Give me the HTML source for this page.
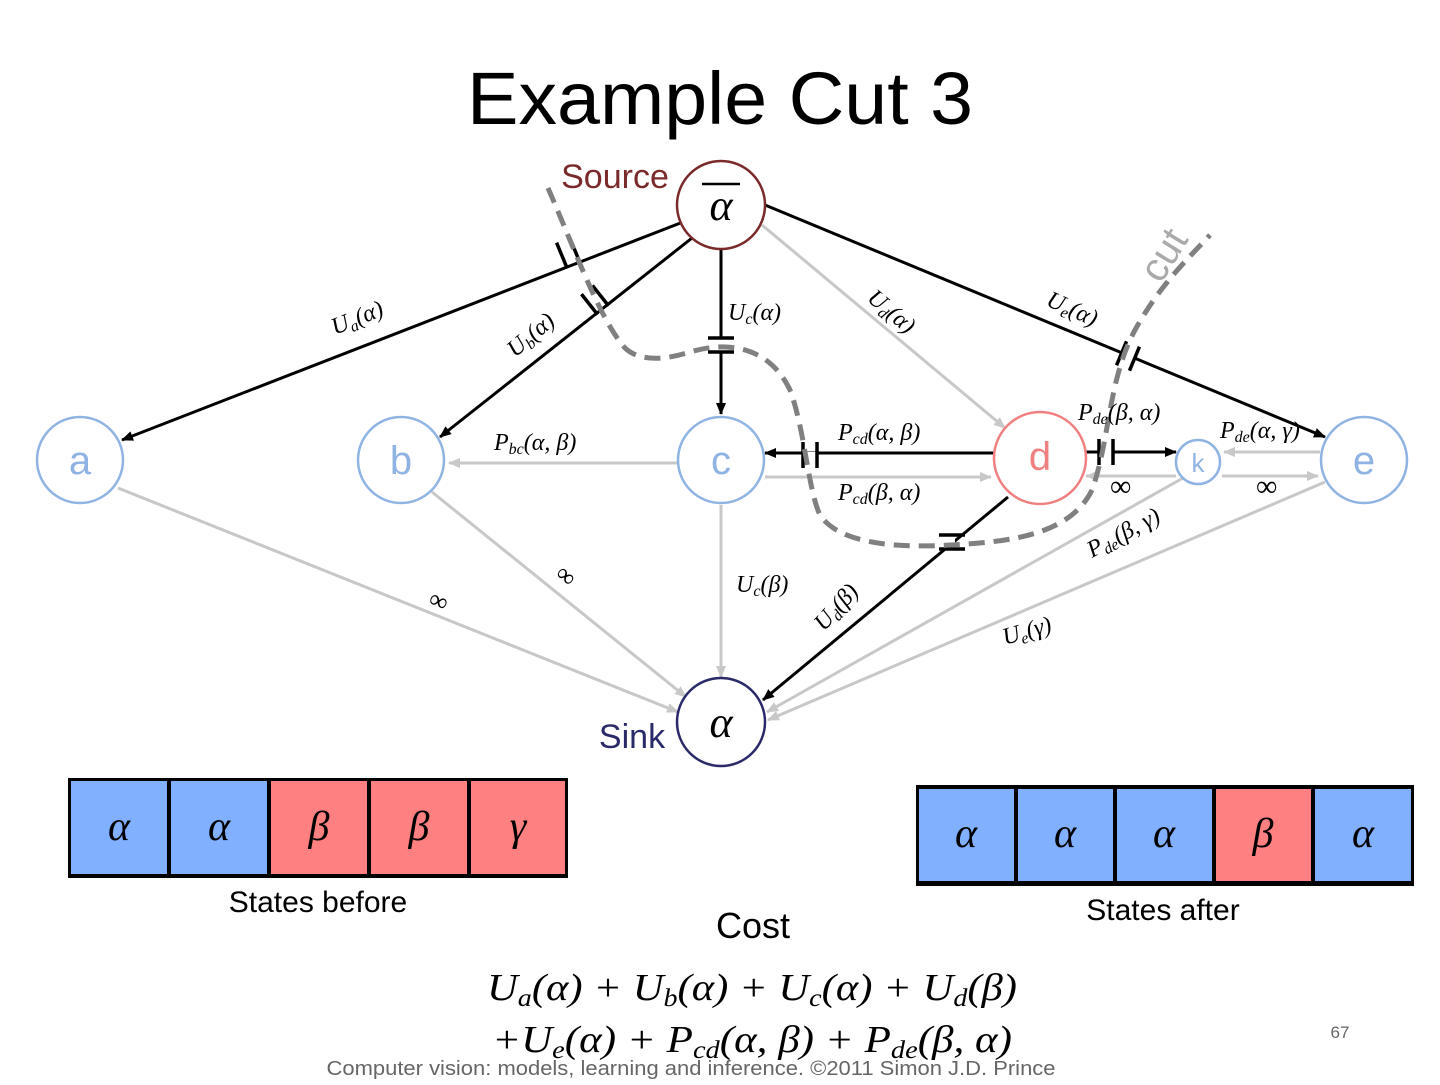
<!DOCTYPE html>
<html><head><meta charset="utf-8"><style>
html,body{margin:0;padding:0;background:#fff;}
body{width:1440px;height:1080px;overflow:hidden;position:relative;font-family:"Liberation Sans",sans-serif;}
</style></head><body>
<svg width="1440" height="1080" viewBox="0 0 1440 1080" xmlns="http://www.w3.org/2000/svg">
<defs>
<marker id="ab" markerWidth="12" markerHeight="10" refX="11" refY="5" orient="auto" markerUnits="userSpaceOnUse"><path d="M0,0 L12,5 L0,10 z" fill="#000"/></marker>
<marker id="ag" markerWidth="12" markerHeight="10" refX="11" refY="5" orient="auto" markerUnits="userSpaceOnUse"><path d="M0,0 L12,5 L0,10 z" fill="#c8c8c8"/></marker>
<g id="tk"><rect x="-7" y="-3" width="14" height="6" fill="#fff"/><line x1="-7" y1="-13" x2="-7" y2="13" stroke="#000" stroke-width="3.5"/><line x1="7" y1="-13" x2="7" y2="13" stroke="#000" stroke-width="3.5"/></g>
</defs>
<text x="720" y="124" text-anchor="middle" font-size="74" font-family="Liberation Sans" textLength="506" lengthAdjust="spacingAndGlyphs">Example Cut 3</text>
<g stroke="#c8c8c8" stroke-width="3" fill="none" marker-end="url(#ag)">
<line x1="762" y1="225" x2="1005" y2="428"/>
<line x1="677" y1="463" x2="449" y2="463"/>
<line x1="765" y1="477" x2="991" y2="477"/>
<line x1="1176" y1="476" x2="1086" y2="476"/>
<line x1="1320" y1="452" x2="1224" y2="452"/>
<line x1="1222" y1="476" x2="1318" y2="476"/>
<line x1="118" y1="488" x2="678" y2="712"/>
<line x1="432" y1="492" x2="686" y2="697"/>
<line x1="721" y1="505" x2="721" y2="677"/>
<line x1="1183" y1="478" x2="767" y2="712"/>
<line x1="1325" y1="482" x2="768" y2="720"/>
</g>
<g stroke="#000" stroke-width="3" fill="none" marker-end="url(#ab)">
<line x1="683" y1="222" x2="122" y2="440"/>
<line x1="692" y1="238" x2="440" y2="437"/>
<line x1="721" y1="249" x2="721" y2="414"/>
<line x1="765" y1="205" x2="1325" y2="437"/>
<line x1="994" y1="453" x2="765" y2="453"/>
<line x1="1086" y1="452" x2="1176" y2="452"/>
<line x1="1008" y1="497" x2="763" y2="700"/>
</g>
<use href="#tk" transform="translate(568,252) rotate(157.6)"/>
<use href="#tk" transform="translate(595,300) rotate(141.7)"/>
<use href="#tk" transform="translate(721,345) rotate(90)"/>
<use href="#tk" transform="translate(1128,356) rotate(22.5)"/>
<use href="#tk" transform="translate(810,455)"/>
<use href="#tk" transform="translate(1106,452)"/>
<use href="#tk" transform="translate(952,542) rotate(90)"/>
<path d="M548,188 C575,250 600,320 625,348 C640,362 665,360 690,352 C730,340 770,348 790,390 C805,430 808,490 820,515 C840,545 900,548 950,545 C1010,542 1070,535 1092,490 C1110,440 1108,380 1135,330 C1160,285 1185,262 1210,235" fill="none" stroke="#808080" stroke-width="5" stroke-dasharray="16,9"/>
<g stroke-width="2.5" fill="#fff">
<circle cx="721" cy="205" r="44" stroke="#7a2a2a"/>
<circle cx="80" cy="460" r="43" stroke="#8fb3e2"/>
<circle cx="401" cy="460" r="43" stroke="#8fb3e2"/>
<circle cx="721" cy="460" r="43" stroke="#8fb3e2"/>
<circle cx="1040" cy="458" r="46" stroke="#f08080"/>
<circle cx="1198" cy="462" r="22" stroke="#8fb3e2"/>
<circle cx="1364" cy="460" r="43" stroke="#8fb3e2"/>
<circle cx="721" cy="722" r="44" stroke="#2a2a6a"/>
</g>
<g font-family="Liberation Sans" text-anchor="middle">
<text x="80" y="474" font-size="40" fill="#8fb3e2">a</text>
<text x="401" y="474" font-size="40" fill="#8fb3e2">b</text>
<text x="721" y="474" font-size="40" fill="#8fb3e2">c</text>
<text x="1040" y="470" font-size="40" fill="#f08080">d</text>
<text x="1198" y="472" font-size="26" fill="#8fb3e2">k</text>
<text x="1364" y="474" font-size="40" fill="#8fb3e2">e</text>
<text x="615" y="188" font-size="34" fill="#7a2a2a">Source</text>
<text x="632" y="748" font-size="34" fill="#2a2a6a">Sink</text>
<text x="1175" y="262" font-size="40" fill="#aaa" transform="rotate(-58 1175 262)">cut</text>
</g>
<g font-family="Liberation Serif" font-style="italic" font-size="44" text-anchor="middle">
<line x1="702" y1="184" x2="740" y2="184" stroke="#000" stroke-width="2.5"/>
<text x="721" y="220">α</text>
<text x="721" y="737">α</text>
</g>
<g font-family="Liberation Serif" font-style="italic" font-size="24">
<text x="335" y="335" transform="rotate(-22 335 335)">U<tspan font-size="16" dy="4">a</tspan><tspan dy="-4">(α)</tspan></text>
<text x="515" y="358" transform="rotate(-40 515 358)">U<tspan font-size="16" dy="4">b</tspan><tspan dy="-4">(α)</tspan></text>
<text x="728" y="320">U<tspan font-size="16" dy="4">c</tspan><tspan dy="-4">(α)</tspan></text>
<text x="866" y="300" transform="rotate(40 866 300)">U<tspan font-size="16" dy="4">d</tspan><tspan dy="-4">(α)</tspan></text>
<text x="1045" y="305" transform="rotate(24 1045 305)">U<tspan font-size="16" dy="4">e</tspan><tspan dy="-4">(α)</tspan></text>
<text x="494" y="450">P<tspan font-size="16" dy="4">bc</tspan><tspan dy="-4">(α, β)</tspan></text>
<text x="838" y="440">P<tspan font-size="16" dy="4">cd</tspan><tspan dy="-4">(α, β)</tspan></text>
<text x="838" y="500">P<tspan font-size="16" dy="4">cd</tspan><tspan dy="-4">(β, α)</tspan></text>
<text x="1078" y="420">P<tspan font-size="16" dy="4">de</tspan><tspan dy="-4">(β, α)</tspan></text>
<text x="1220" y="438">P<tspan font-size="16" dy="4">de</tspan><tspan dy="-4">(α, γ)</tspan></text>
<text x="1092" y="558" transform="rotate(-28 1092 558)">P<tspan font-size="16" dy="4">de</tspan><tspan dy="-4">(β, γ)</tspan></text>
<text x="736" y="592">U<tspan font-size="16" dy="4">c</tspan><tspan dy="-4">(β)</tspan></text>
<text x="824" y="632" transform="rotate(-48 824 632)">U<tspan font-size="16" dy="4">d</tspan><tspan dy="-4">(β)</tspan></text>
<text x="1005" y="645" transform="rotate(-16 1005 645)">U<tspan font-size="16" dy="4">e</tspan><tspan dy="-4">(γ)</tspan></text>
<text x="1110" y="496" font-style="normal" font-size="30">∞</text>
<text x="1256" y="496" font-style="normal" font-size="30">∞</text>
<text x="428" y="610" font-style="normal" font-size="26" transform="rotate(22 440 605)">∞</text>
<text x="554" y="585" font-style="normal" font-size="26" transform="rotate(40 566 580)">∞</text>
</g>
<rect x="68" y="778" width="500" height="100" fill="#000"/>
<g font-family="Liberation Serif" font-style="italic" font-size="42" text-anchor="middle">
<rect x="71" y="781" width="96" height="93" fill="#80b0ff"/>
<rect x="171" y="781" width="96" height="93" fill="#80b0ff"/>
<rect x="271" y="781" width="96" height="93" fill="#ff8080"/>
<rect x="371" y="781" width="96" height="93" fill="#ff8080"/>
<rect x="471" y="781" width="94" height="93" fill="#ff8080"/>
<text x="119" y="840">α</text><text x="219" y="840">α</text><text x="319" y="840">β</text><text x="419" y="840">β</text><text x="518" y="840">γ</text>
<rect x="916" y="785" width="498" height="101" fill="#000"/>
<rect x="919" y="789" width="95" height="92" fill="#80b0ff"/>
<rect x="1018" y="789" width="95" height="92" fill="#80b0ff"/>
<rect x="1117" y="789" width="95" height="92" fill="#80b0ff"/>
<rect x="1216" y="789" width="95" height="92" fill="#ff8080"/>
<rect x="1315" y="789" width="96" height="92" fill="#80b0ff"/>
<text x="966" y="847">α</text><text x="1065" y="847">α</text><text x="1164" y="847">α</text><text x="1263" y="847">β</text><text x="1363" y="847">α</text>
</g>
<g font-family="Liberation Sans" text-anchor="middle">
<text x="318" y="912" font-size="30">States before</text>
<text x="1163" y="920" font-size="30">States after</text>
<text x="753" y="938" font-size="36">Cost</text>
</g>
<g font-family="Liberation Serif" font-style="italic" font-size="38" text-anchor="middle">
<text x="752" y="1000" textLength="530" lengthAdjust="spacingAndGlyphs">U<tspan font-size="25" dy="6">a</tspan><tspan dy="-6">(α) + U</tspan><tspan font-size="25" dy="6">b</tspan><tspan dy="-6">(α) + U</tspan><tspan font-size="25" dy="6">c</tspan><tspan dy="-6">(α) + U</tspan><tspan font-size="25" dy="6">d</tspan><tspan dy="-6">(β)</tspan></text>
<text x="752" y="1052" textLength="520" lengthAdjust="spacingAndGlyphs">+U<tspan font-size="25" dy="6">e</tspan><tspan dy="-6">(α) + P</tspan><tspan font-size="25" dy="6">cd</tspan><tspan dy="-6">(α, β) + P</tspan><tspan font-size="25" dy="6">de</tspan><tspan dy="-6">(β, α)</tspan></text>
</g>
<text x="1340" y="1038" font-size="17" fill="#666" text-anchor="middle">67</text>
<text x="691" y="1075" font-size="20" fill="#666" text-anchor="middle" textLength="729" lengthAdjust="spacingAndGlyphs">Computer vision: models, learning and inference.  ©2011 Simon J.D. Prince</text>
</svg>
</body></html>
